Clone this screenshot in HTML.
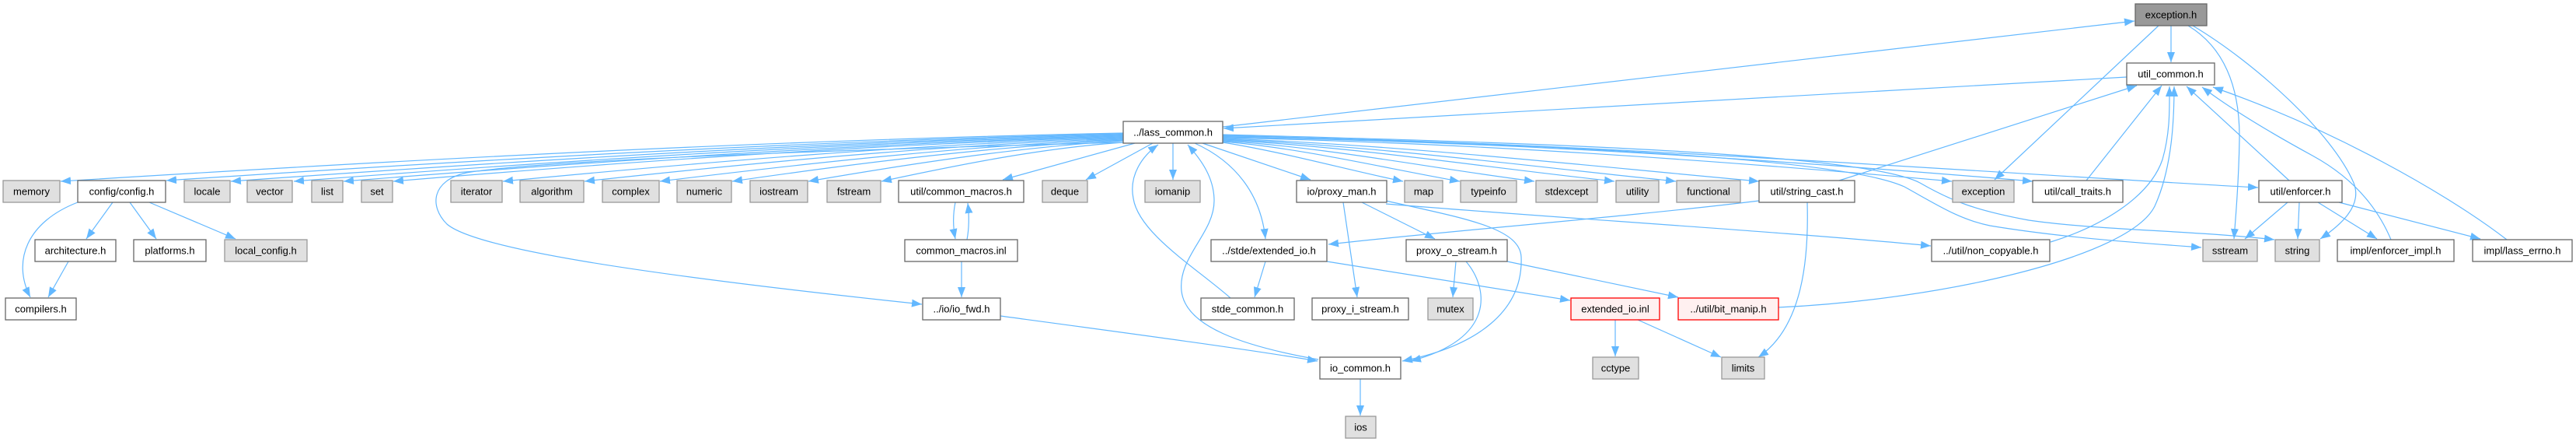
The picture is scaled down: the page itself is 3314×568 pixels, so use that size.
<!DOCTYPE html>
<html><head><meta charset="utf-8"><style>
html,body{margin:0;padding:0;background:#fff;}
svg{display:block;}
text{font-family:"Liberation Sans",sans-serif;font-size:13px;fill:#000;text-anchor:middle;}
.e{fill:none;stroke:#63b8ff;stroke-width:1.2;marker-end:url(#a);}
.w{fill:#fff;stroke:#666;stroke-width:1.3;}
.g{fill:#e0e0e0;stroke:#999;stroke-width:1.3;}
.c{fill:#999;stroke:#666;stroke-width:1.3;}
.r{fill:#fff0f0;stroke:#ff0000;stroke-width:1.3;}
</style></head><body>
<svg width="3314" height="568" viewBox="0 0 3314 568" xmlns="http://www.w3.org/2000/svg">
<defs><marker id="a" markerWidth="14" markerHeight="11" refX="13" refY="5" orient="auto" markerUnits="userSpaceOnUse"><path d="M0,0 L13,5 L0,10 z" fill="#63b8ff"/></marker></defs>
<rect width="3314" height="568" fill="#fff"/>
<g>
<!-- left fan -->
<path class="e" d="M1445,171 C994,180 529,205 78,233"/>
<path class="e" d="M1445,172 C1039,181 620,205 214,232"/>
<path class="e" d="M1445,173 C1066,182 676,206 297,233"/>
<path class="e" d="M1445,174 C1093,183 730,206 378,233"/>
<path class="e" d="M1445,175 C1114,184 773,207 442,233"/>
<path class="e" d="M1445,176 C1135,185 816,207 506,233"/>
<path class="e" d="M1445,177 C1182,185 910,208 647,233"/>
<path class="e" d="M1445,178 C1216,186 981,208 752,233"/>
<path class="e" d="M1445,179 C1248,187 1046,209 849,233"/>
<path class="e" d="M1445,180 C1279,188 1108,209 942,233"/>
<path class="e" d="M1445,181 C1311,189 1174,210 1040,233"/>
<path class="e" d="M1445,183 C1342,190 1237,211 1134,233"/>
<path class="e" d="M1460,184 L1290,231"/>
<path class="e" d="M1483,184 L1397,231"/>
<path class="e" d="M1509,184 L1509,231"/>
<path class="e" d="M1445,183 C1100,192 700,205 600,222 C555,232 552,265 575,288 C610,318 800,350 1186,391"/>
<!-- right fan -->
<path class="e" d="M1547,184 L1686,231"/>
<path class="e" d="M1573,183 C1650,195 1740,220 1805,233"/>
<path class="e" d="M1573,182 C1675,190 1790,218 1878,233"/>
<path class="e" d="M1573,181 C1705,189 1840,216 1974,233"/>
<path class="e" d="M1573,180 C1740,188 1900,214 2077,233"/>
<path class="e" d="M1573,179 C1765,187 1960,213 2156,233"/>
<path class="e" d="M1573,178 C1800,186 2030,212 2263,233"/>
<path class="e" d="M1573,177 C1880,183 2200,205 2511,233"/>
<path class="e" d="M1573,176 C1920,182 2260,203 2615,233"/>
<path class="e" d="M1573,175 C2000,180 2600,225 2905,241"/>
<path class="e" d="M1573,174 C2000,186 2370,203 2450,240 C2490,262 2520,282 2560,290 C2650,305 2750,312 2832,318"/>
<path class="e" d="M1573,173 C2000,184 2400,198 2470,235 C2510,258 2540,270 2610,283 C2700,296 2820,296 2926,308"/>
<path class="e" d="M1573,163 L2746,27"/>
<path class="e" d="M2736,99 L1574,165"/>
<path class="e" d="M1537,184 C1590,208 1622,250 1628,307"/>
<path class="e" d="M1583,383 C1540,345 1465,300 1458,255 C1452,225 1470,200 1490,186"/>
<path class="e" d="M1696,462 C1600,445 1525,420 1520,374 C1515,330 1562,300 1562,258 C1562,228 1545,205 1528,186"/>
<!-- middle -->
<path class="e" d="M1287,406 C1450,428 1600,448 1695,464"/>
<path class="e" d="M1229,260 C1226,275 1226,292 1229,307"/>
<path class="e" d="M1244,308 C1247,292 1247,278 1245,261"/>
<path class="e" d="M1237,336 L1237,382"/>
<path class="e" d="M1628,336 L1614,382"/>
<path class="e" d="M1707,336 L2020,386"/>
<path class="e" d="M2263,258 C2100,278 1850,298 1709,314"/>
<path class="e" d="M1728,260 L1746,382"/>
<path class="e" d="M1752,260 L1846,307"/>
<path class="e" d="M1783,258 C1880,280 1955,292 1957,330 C1960,400 1900,445 1804,464"/>
<path class="e" d="M1783,262 C2000,280 2300,298 2484,316"/>
<path class="e" d="M1873,336 L1869,382"/>
<path class="e" d="M1886,336 C1915,370 1925,435 1815,464"/>
<path class="e" d="M1939,336 L2159,382"/>
<path class="e" d="M2078,411 L2078,458"/>
<path class="e" d="M2107,411 L2214,459"/>
<path class="e" d="M2325,260 C2327,330 2320,420 2262,459"/>
<path class="e" d="M1750,487 L1750,534"/>
<!-- right side -->
<path class="e" d="M2288,395 C2500,385 2740,330 2772,265 C2795,215 2797,150 2797,111"/>
<path class="e" d="M2638,311 C2700,292 2765,255 2782,205 C2792,170 2791,140 2791,111"/>
<path class="e" d="M2366,232 L2749,110"/>
<path class="e" d="M2684,232 L2781,110"/>
<path class="e" d="M2793,33 L2793,80"/>
<path class="e" d="M2777,33 L2566,231"/>
<path class="e" d="M2815,33 C2860,60 2882,110 2881,180 C2880,240 2876,280 2874,307"/>
<path class="e" d="M2821,33 C2900,80 3000,170 3028,235 C3040,265 3010,290 2985,307"/>
<path class="e" d="M2945,232 L2813,111"/>
<path class="e" d="M2943,260 L2888,307"/>
<path class="e" d="M2958,260 L2956,307"/>
<path class="e" d="M2982,260 L3058,307"/>
<path class="e" d="M3009,260 L3191,307"/>
<path class="e" d="M3076,308 C3060,270 3030,230 2975,200 C2920,170 2870,140 2833,112"/>
<path class="e" d="M3225,308 C3150,250 3000,165 2847,112"/>
<!-- config -->
<path class="e" d="M145,260 L111,307"/>
<path class="e" d="M167,260 L201,307"/>
<path class="e" d="M192,260 L303,307"/>
<path class="e" d="M100,260 C35,285 15,335 39,382"/>
<path class="e" d="M88,336 L62,382"/>
</g>
<g>
<rect class="c" x="2747" y="5" width="92" height="28"/><text x="2793" y="23.5">exception.h</text>
<rect class="w" x="2736" y="81" width="113" height="28"/><text x="2792.5" y="99.5">util_common.h</text>
<rect class="w" x="1445" y="156" width="128" height="28"/><text x="1509" y="174.5">../lass_common.h</text>

<rect class="g" x="4" y="232" width="73" height="28"/><text x="40.5" y="250.5">memory</text>
<rect class="w" x="100" y="232" width="113" height="28"/><text x="156.5" y="250.5">config/config.h</text>
<rect class="g" x="237" y="232" width="59" height="28"/><text x="266.5" y="250.5">locale</text>
<rect class="g" x="318" y="232" width="58" height="28"/><text x="347" y="250.5">vector</text>
<rect class="g" x="401" y="232" width="40" height="28"/><text x="421" y="250.5">list</text>
<rect class="g" x="465" y="232" width="40" height="28"/><text x="485" y="250.5">set</text>
<rect class="g" x="580" y="232" width="66" height="28"/><text x="613" y="250.5">iterator</text>
<rect class="g" x="669" y="232" width="82" height="28"/><text x="710" y="250.5">algorithm</text>
<rect class="g" x="775" y="232" width="73" height="28"/><text x="811.5" y="250.5">complex</text>
<rect class="g" x="871" y="232" width="70" height="28"/><text x="906" y="250.5">numeric</text>
<rect class="g" x="965" y="232" width="74" height="28"/><text x="1002" y="250.5">iostream</text>
<rect class="g" x="1064" y="232" width="69" height="28"/><text x="1098.5" y="250.5">fstream</text>
<rect class="w" x="1156" y="232" width="161" height="28"/><text x="1236.5" y="250.5">util/common_macros.h</text>
<rect class="g" x="1341" y="232" width="58" height="28"/><text x="1370" y="250.5">deque</text>
<rect class="g" x="1473" y="232" width="71" height="28"/><text x="1508.5" y="250.5">iomanip</text>
<rect class="w" x="1668" y="232" width="116" height="28"/><text x="1726" y="250.5">io/proxy_man.h</text>
<rect class="g" x="1807" y="232" width="49" height="28"/><text x="1831.5" y="250.5">map</text>
<rect class="g" x="1879" y="232" width="72" height="28"/><text x="1915" y="250.5">typeinfo</text>
<rect class="g" x="1976" y="232" width="79" height="28"/><text x="2015.5" y="250.5">stdexcept</text>
<rect class="g" x="2079" y="232" width="55" height="28"/><text x="2106.5" y="250.5">utility</text>
<rect class="g" x="2157" y="232" width="82" height="28"/><text x="2198" y="250.5">functional</text>
<rect class="w" x="2263" y="232" width="123" height="28"/><text x="2324.5" y="250.5">util/string_cast.h</text>
<rect class="g" x="2512" y="232" width="79" height="28"/><text x="2551.5" y="250.5">exception</text>
<rect class="w" x="2615" y="232" width="116" height="28"/><text x="2673" y="250.5">util/call_traits.h</text>
<rect class="w" x="2906" y="232" width="107" height="28"/><text x="2959.5" y="250.5">util/enforcer.h</text>

<rect class="w" x="45" y="308" width="104" height="28"/><text x="97" y="326.5">architecture.h</text>
<rect class="w" x="172" y="308" width="93" height="28"/><text x="218.5" y="326.5">platforms.h</text>
<rect class="g" x="289" y="308" width="106" height="28"/><text x="342" y="326.5">local_config.h</text>
<rect class="w" x="1164" y="308" width="145" height="28"/><text x="1236.5" y="326.5">common_macros.inl</text>
<rect class="w" x="1558" y="308" width="149" height="28"/><text x="1632.5" y="326.5">../stde/extended_io.h</text>
<rect class="w" x="1809" y="308" width="130" height="28"/><text x="1874" y="326.5">proxy_o_stream.h</text>
<rect class="w" x="2485" y="308" width="152" height="28"/><text x="2561" y="326.5">../util/non_copyable.h</text>
<rect class="g" x="2834" y="308" width="70" height="28"/><text x="2869" y="326.5">sstream</text>
<rect class="g" x="2927" y="308" width="57" height="28"/><text x="2955.5" y="326.5">string</text>
<rect class="w" x="3007" y="308" width="150" height="28"/><text x="3082" y="326.5">impl/enforcer_impl.h</text>
<rect class="w" x="3181" y="308" width="128" height="28"/><text x="3245" y="326.5">impl/lass_errno.h</text>

<rect class="w" x="7" y="383" width="91" height="28"/><text x="52.5" y="401.5">compilers.h</text>
<rect class="w" x="1187" y="383" width="100" height="28"/><text x="1237" y="401.5">../io/io_fwd.h</text>
<rect class="w" x="1545" y="383" width="120" height="28"/><text x="1605" y="401.5">stde_common.h</text>
<rect class="w" x="1688" y="383" width="124" height="28"/><text x="1750" y="401.5">proxy_i_stream.h</text>
<rect class="g" x="1837" y="383" width="58" height="28"/><text x="1866" y="401.5">mutex</text>
<rect class="r" x="2021" y="383" width="114" height="28"/><text x="2078" y="401.5">extended_io.inl</text>
<rect class="r" x="2159" y="383" width="129" height="28"/><text x="2223.5" y="401.5">../util/bit_manip.h</text>

<rect class="w" x="1698" y="459" width="104" height="28"/><text x="1750" y="477.5">io_common.h</text>
<rect class="g" x="2049" y="459" width="59" height="28"/><text x="2078.5" y="477.5">cctype</text>
<rect class="g" x="2215" y="459" width="55" height="28"/><text x="2242.5" y="477.5">limits</text>

<rect class="g" x="1731" y="535" width="39" height="28"/><text x="1750.5" y="553.5">ios</text>
</g>
</svg>
</body></html>
